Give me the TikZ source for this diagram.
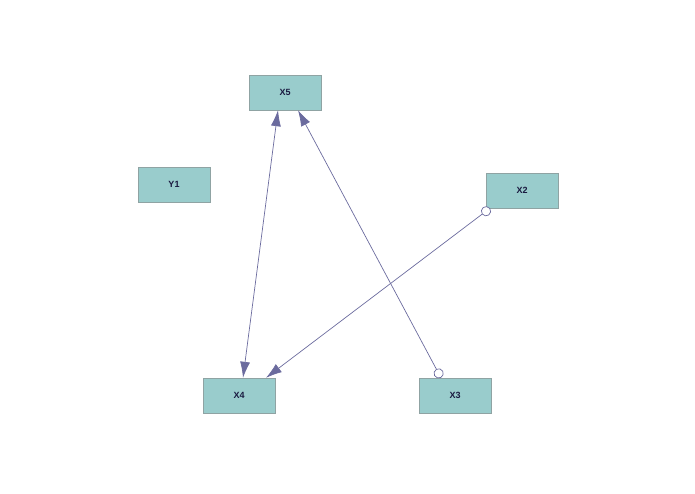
\documentclass[tikz,border=0pt]{standalone}
\usepackage{fontspec}
\setmainfont{Liberation Sans}
\usetikzlibrary{arrows.meta}
\definecolor{boxfill}{HTML}{99CCCC}
\definecolor{boxline}{HTML}{8FA3A3}
\definecolor{edge}{HTML}{6B6B9E}
\definecolor{txt}{HTML}{1A1A40}
\begin{document}
\begin{tikzpicture}[x=1pt,y=-1pt,
  var/.style={draw=boxline,fill=boxfill,minimum width=72pt,minimum height=35pt,inner sep=0pt,font=\bfseries\small,text=txt},
  conn/.style={draw=edge,line width=0.7pt},
  tip/.style={-{Latex[length=16pt,width=10pt]}},
  both/.style={{Latex[length=16pt,width=10pt]}-{Latex[length=16pt,width=10pt]}},
  circ/.style={{Circle[open,length=10pt,width=10pt,fill=white]}-{Latex[length=16pt,width=10pt]}}]
\useasboundingbox (0,0) rectangle (695,494);
\node[var] (X5) at (285,92.5) {X5};
\node[var] (Y1) at (174,184.5) {Y1};
\node[var] (X2) at (522,190.5) {X2};
\node[var] (X4) at (239,395.5) {X4};
\node[var] (X3) at (455,395.5) {X3};
\draw[conn,both] (X5.south -| 278,0) -- (X4.north -| 243,0);
\draw[conn,circ] (X3.north -| 441,0) -- (X5.south -| 298,0);
\draw[conn,circ] (X2.south -| 490,0) -- (X4.north -| 266,0);
\end{tikzpicture}
\end{document}
